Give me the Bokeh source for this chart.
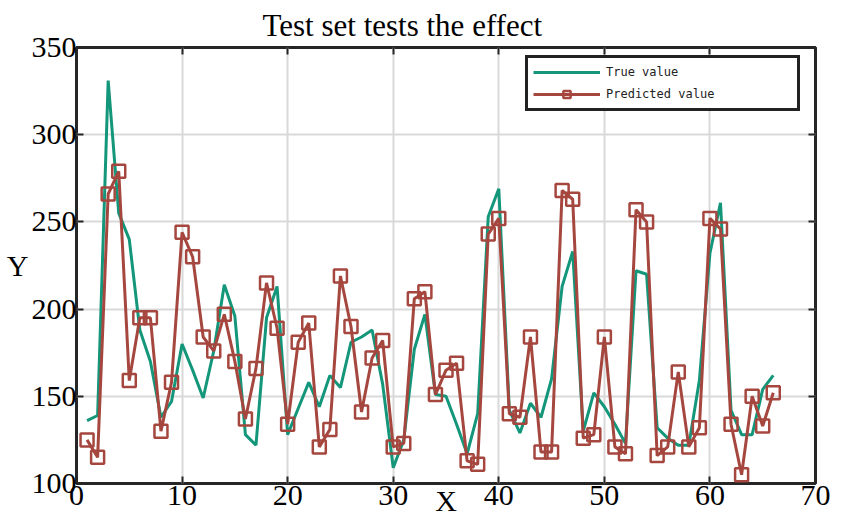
from bokeh.plotting import figure
from bokeh.models import (Range1d, LinearAxis, FixedTicker, Legend, LegendItem)
from bokeh.embed import file_html
from bokeh.resources import INLINE

# ---- data ----
x_idx = list(range(1, 67))
true_vals = [136, 139, 331, 255, 240, 188, 170, 138, 147, 180,
             165, 149, 176, 214, 196, 128, 122, 195, 213, 128,
             143, 158, 144, 162, 155, 181, 184, 188, 157, 109,
             125, 177, 197, 151, 150, 134, 117, 140, 253, 269,
             142, 129, 146, 138, 160, 213, 233, 130, 152, 144,
             134, 123, 222, 220, 132, 126, 122, 122, 159, 232,
             261, 142, 128, 128, 154, 162]
pred_vals = [125, 115, 266, 279, 159, 195, 195, 130, 158, 244,
             230, 184, 176, 197, 170, 137, 166, 215, 189, 134,
             181, 192, 121, 131, 219, 190, 141, 172, 182, 121,
             123, 206, 210, 151, 165, 169, 113, 111, 243, 252,
             140, 138, 184, 118, 118, 268, 263, 126, 128, 184,
             121, 117, 257, 250, 116, 121, 164, 121, 132, 252,
             246, 134, 105, 150, 133, 152]
x_ticks = [0, 10, 20, 30, 40, 50, 60, 70]
y_ticks = [100, 150, 200, 250, 300, 350]
title_text = "Test set tests the effect"
x_label = "X"
y_label = "Y"
series_names = ["True value", "Predicted value"]

GREEN = "#13967a"
RED = "#a5473f"
SERIF = "Liberation Serif"
FRAME = "#262626"

p = figure(width=843, height=526, output_backend="svg", toolbar_location=None,
           x_range=Range1d(0, 70), y_range=Range1d(100, 350),
           min_border_left=76, min_border_right=28, min_border_top=47,
           min_border_bottom=43)

p.title.text = title_text
p.title.align = "left"
p.title.offset = 186
p.title.text_font = SERIF
p.title.text_font_size = "31px"
p.title.text_font_style = "normal"
p.title.text_color = "black"
p.title.standoff = 10

p.outline_line_color = FRAME
p.outline_line_width = 3
p.outline_line_alpha = 1.0

for ax in p.xaxis:
    ax.ticker = FixedTicker(ticks=x_ticks)
for ax in p.yaxis:
    ax.ticker = FixedTicker(ticks=y_ticks)

for ax in list(p.xaxis) + list(p.yaxis):
    ax.axis_line_color = None
    ax.major_tick_in = 7
    ax.major_tick_out = 0
    ax.major_tick_line_width = 2
    ax.major_tick_line_color = FRAME
    ax.minor_tick_line_color = None
    ax.major_label_text_font = SERIF
    ax.major_label_text_font_size = "30px"
    ax.major_label_text_color = "black"
    ax.axis_label_text_font = SERIF
    ax.axis_label_text_font_size = "30px"
    ax.axis_label_text_font_style = "normal"
    ax.axis_label_text_color = "black"

p.xaxis.major_label_standoff = 2
p.xaxis.axis_label = x_label
p.xaxis.axis_label_standoff = -24

p.yaxis.major_label_standoff = 0
p.yaxis.axis_label = y_label
p.yaxis.axis_label_standoff = 0
for ax in p.yaxis:
    if "axis_label_orientation" in ax.properties():
        ax.axis_label_orientation = "horizontal"

# ticks on top and right (no labels)
top_ax = LinearAxis(ticker=FixedTicker(ticks=x_ticks),
                    major_label_overrides={t: "" for t in x_ticks})
right_ax = LinearAxis(ticker=FixedTicker(ticks=y_ticks),
                      major_label_overrides={t: "" for t in y_ticks})
for ax in (top_ax, right_ax):
    ax.axis_line_color = None
    ax.major_tick_in = 7
    ax.major_tick_out = 0
    ax.major_tick_line_width = 2
    ax.major_tick_line_color = FRAME
    ax.minor_tick_line_color = None
    ax.major_label_text_font_size = "1px"
    ax.major_label_standoff = 0
p.add_layout(top_ax, "above")
p.add_layout(right_ax, "right")

p.xgrid.ticker = FixedTicker(ticks=x_ticks)
p.ygrid.ticker = FixedTicker(ticks=y_ticks)
p.grid.grid_line_color = "#d9d9d9"
p.grid.grid_line_width = 2

r_true = p.line(x_idx, true_vals, line_color=GREEN, line_width=3)
r_pred_line = p.line(x_idx, pred_vals, line_color=RED, line_width=3)
r_pred_pts = p.scatter(x_idx, pred_vals, marker="square", size=13,
                       line_color=RED, line_width=2.5, fill_color=None)

legend = Legend(items=[
    LegendItem(label=series_names[0], renderers=[r_true]),
    LegendItem(label=series_names[1], renderers=[r_pred_line, r_pred_pts]),
], location=(449, 372))
legend.label_text_font = "DejaVu Sans Mono"
legend.label_text_font_size = "12px"
legend.label_text_color = "#222222"
legend.glyph_width = 67
legend.glyph_height = 18
legend.label_height = 18
legend.label_width = 186
legend.label_standoff = 6
legend.spacing = 4
legend.padding = 5
legend.margin = 0
legend.border_line_color = "#222222"
legend.border_line_width = 3
legend.border_line_alpha = 1.0
legend.background_fill_color = "white"
legend.background_fill_alpha = 1.0
p.add_layout(legend, "center")

open("out.html", "w").write(file_html(p, INLINE))
